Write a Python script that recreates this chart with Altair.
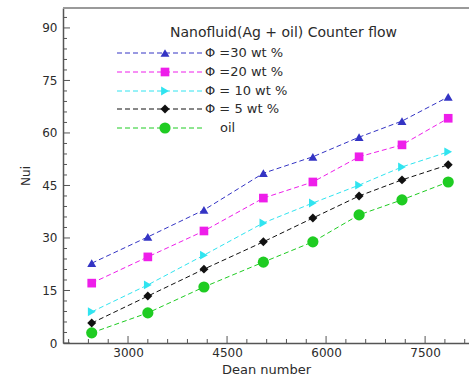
import altair as alt
import pandas as pd

# Dean number at each measured point
dean = [2450, 3300, 4150, 5050, 5800, 6500, 7150, 7850]

# Inner Nusselt number for each concentration
nu_phi30 = [22.8, 30.3, 38.0, 48.5, 53.2, 58.8, 63.4, 70.3]
nu_phi20 = [17.1, 24.6, 32.0, 41.4, 46.0, 53.2, 56.6, 64.2]
nu_phi10 = [8.9, 16.6, 25.1, 34.3, 40.0, 45.1, 50.3, 54.6]
nu_phi5 = [5.7, 13.4, 21.1, 28.9, 35.7, 42.0, 46.6, 50.9]
nu_oil = [2.9, 8.6, 16.0, 23.1, 28.9, 36.6, 40.9, 46.0]

series_labels = ["Φ =30 wt %", "Φ =20 wt %", "Φ = 10 wt %", "Φ = 5 wt %", "oil"]
series_values = [nu_phi30, nu_phi20, nu_phi10, nu_phi5, nu_oil]
series_colors = ["#3434c4", "#ee1eea", "#30e4f0", "#111111", "#1fcc22"]
series_shapes = ["triangle-up", "square", "triangle-right", "diamond", "circle"]
series_sizes = [80, 75, 80, 80, 125]

legend_title = "Nanofluid(Ag + oil) Counter flow"

# Axis tick values
x_major = [3000, 4500, 6000, 7500]
x_minor = [v for v in range(2100, 8200, 300) if v not in x_major]
y_major = [0, 15, 30, 45, 60, 75, 90]
y_minor = [v for v in range(3, 96, 3) if v % 15 != 0]

W, H = 406, 335
FONT = "DejaVu Sans"
TXT = "#2b2b2b"
AX = "#555555"

xs = alt.Scale(domain=[2015, 8165], nice=False, zero=False)
ys = alt.Scale(domain=[0, 95.7], nice=False, zero=False)

x_axis = alt.Axis(values=x_major, format="d", ticks=False, grid=False, domainColor=AX, domainWidth=1.5,
                  labelFont=FONT, labelFontSize=12, labelColor=TXT, labelPadding=4,
                  title="Dean number", titleFont=FONT, titleFontSize=13, titleFontWeight="normal",
                  titleColor=TXT, titlePadding=5)
y_axis = alt.Axis(values=y_major, format="d", ticks=False, grid=False, domainColor=AX, domainWidth=1.5,
                  labelFont=FONT, labelFontSize=12, labelColor=TXT, labelPadding=6,
                  title="Nui", titleFont=FONT, titleFontSize=12, titleFontWeight="normal",
                  titleColor=TXT, titlePadding=9)

rows = []
for label, vals in zip(series_labels, series_values):
    for d, v in zip(dean, vals):
        rows.append({"series": label, "dean": d, "nu": v})
df = pd.DataFrame(rows)

one = pd.DataFrame({"k": [0]})

layers = []

# frame line along the top of the plot
layers.append(alt.Chart(one).mark_rule(color="#9a9a9a", strokeWidth=2).encode(
    x=alt.value(0), x2=alt.value(W), y=alt.value(0)))

# inward ticks
def xticks(vals, length):
    return alt.Chart(pd.DataFrame({"v": vals})).mark_rule(color=AX, strokeWidth=1).encode(
        x=alt.X("v:Q", scale=xs, axis=x_axis), y=alt.value(H), y2=alt.value(H - length))

def yticks(vals, length):
    return alt.Chart(pd.DataFrame({"v": vals})).mark_rule(color=AX, strokeWidth=1).encode(
        y=alt.Y("v:Q", scale=ys, axis=y_axis), x=alt.value(0), x2=alt.value(length))

layers += [xticks(x_major, 7), xticks(x_minor, 4), yticks(y_major, 7), yticks(y_minor, 4)]

for label, color in zip(series_labels, series_colors):
    sub = df[df["series"] == label]
    layers.append(alt.Chart(sub).mark_line(color=color, strokeWidth=1, strokeDash=[5, 3]).encode(
        x=alt.X("dean:Q", scale=xs, axis=x_axis),
        y=alt.Y("nu:Q", scale=ys, axis=y_axis)))

for label, color, shape, size in zip(series_labels, series_colors, series_shapes, series_sizes):
    sub = df[df["series"] == label]
    layers.append(alt.Chart(sub).mark_point(color=color, filled=True, opacity=1, shape=shape, size=size).encode(
        x=alt.X("dean:Q", scale=xs, axis=x_axis),
        y=alt.Y("nu:Q", scale=ys, axis=y_axis)))

# legend block inside the plot
lg_x0, lg_x1, lg_mark = 54, 140, 102
lg_text = [142, 142, 142, 142, 157]
lg_rows = [45, 64, 83, 101, 120]
layers.append(alt.Chart(one).mark_text(text=legend_title, font=FONT, fontSize=14, color=TXT,
                                       align="left", baseline="middle").encode(
    x=alt.value(107), y=alt.value(25)))
for label, color, shape, size, yy, tx in zip(series_labels, series_colors, series_shapes,
                                             series_sizes, lg_rows, lg_text):
    layers.append(alt.Chart(one).mark_rule(color=color, strokeWidth=1, strokeDash=[5, 3]).encode(
        x=alt.value(lg_x0), x2=alt.value(lg_x1), y=alt.value(yy)))
    layers.append(alt.Chart(one).mark_point(color=color, filled=True, opacity=1, shape=shape, size=size).encode(
        x=alt.value(lg_mark), y=alt.value(yy)))
    layers.append(alt.Chart(one).mark_text(text=label, font=FONT, fontSize=13, color=TXT,
                                           align="left", baseline="middle").encode(
        x=alt.value(tx), y=alt.value(yy)))

chart = alt.layer(*layers).properties(
    width=W, height=H,
    autosize=alt.AutoSizeParams(type="none"),
    padding={"left": 63, "top": 8, "right": 0, "bottom": 38},
    background="white",
).configure_view(stroke=None)

chart.save("out.html", embed_options={"renderer": "svg", "actions": False})
